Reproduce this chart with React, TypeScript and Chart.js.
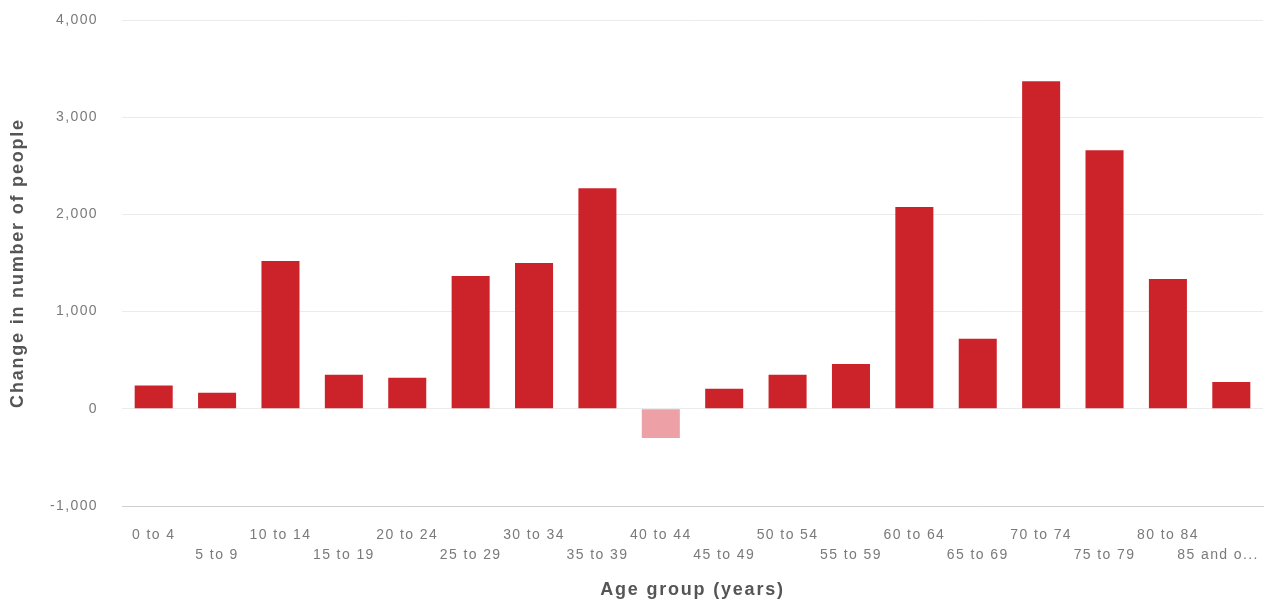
import React, { useEffect, useRef } from "react";
import { Chart, registerables } from "chart.js";

Chart.register(...registerables);

const categories = [
  "0 to 4", "5 to 9", "10 to 14", "15 to 19", "20 to 24", "25 to 29",
  "30 to 34", "35 to 39", "40 to 44", "45 to 49", "50 to 54", "55 to 59",
  "60 to 64", "65 to 69", "70 to 74", "75 to 79", "80 to 84", "85 and over",
];

const changeValues = [
  240, 165, 1520, 350, 320, 1365, 1500, 2270, -300, 205, 350, 460,
  2075, 720, 3370, 2660, 1335, 275,
];

const yTicks = [-1000, 0, 1000, 2000, 3000, 4000];

const POS_COLOR = "#cc232b";
const NEG_COLOR = "#eda0a5";
const FONT = "Liberation Sans, Arial, sans-serif";

function installSpacing(ctx: any) {
  const desc = Object.getOwnPropertyDescriptor(CanvasRenderingContext2D.prototype, "font");
  if (!desc || !desc.set || !desc.get) return;
  Object.defineProperty(ctx, "font", {
    configurable: true,
    get() {
      return desc.get!.call(this);
    },
    set(v: string) {
      desc.set!.call(this, v);
      this.letterSpacing = String(v).indexOf("bold") >= 0 ? "1.8px" : "1.4px";
    },
  });
}

export default function App() {
  const ref = useRef<HTMLCanvasElement | null>(null);

  useEffect(() => {
    if (!ref.current) return;
    const ctx2d = ref.current.getContext("2d");
    if (ctx2d) installSpacing(ctx2d);
    const chart = new Chart(ref.current, {
      type: "bar",
      data: {
        labels: categories,
        datasets: [
          {
            data: changeValues,
            backgroundColor: changeValues.map((v) => (v < 0 ? NEG_COLOR : POS_COLOR)),
            barPercentage: 0.6,
            categoryPercentage: 1,
          },
        ],
      },
      options: {
        animation: false,
        responsive: false,
        layout: { padding: { top: 20, left: 0, right: 3, bottom: 0 } },
        plugins: { legend: { display: false }, tooltip: { enabled: false } },
        scales: {
          x: {
            afterFit: (axis: any) => {
              axis.height = 95;
              axis.paddingLeft = 0;
              axis.paddingRight = 0;
            },
            grid: { display: false, drawTicks: false },
            border: { display: true, color: "#cfcfcf" },
            ticks: {
              autoSkip: false,
              maxRotation: 0,
              minRotation: 0,
              padding: 19,
              color: "#7a7a7a",
              font: { family: FONT, size: 14, lineHeight: 1.43 },
              callback: (_v: any, i: number) => {
                let t = categories[i];
                if (t.length > 10) t = t.slice(0, 8) + "...     ";
                return i % 2 === 0 ? t : ["", t];
              },
            },
            title: {
              display: true,
              text: "Age group (years)",
              color: "#555",
              font: { family: FONT, size: 18, weight: "bold" },
              padding: { top: 0, bottom: 0 },
            },
          },
          y: {
            min: -1000,
            max: 4000,
            afterFit: (axis: any) => {
              axis.width = 122;
              axis.paddingTop = 0;
              axis.paddingBottom = 0;
            },
            afterBuildTicks: (axis: any) => {
              axis.ticks = yTicks.map((v) => ({ value: v }));
            },
            grid: { color: "#ebebeb", drawTicks: false },
            border: { display: false },
            ticks: {
              padding: 24,
              color: "#7a7a7a",
              font: { family: FONT, size: 14 },
              callback: (v: any) => Number(v).toLocaleString("en-US"),
            },
            title: {
              display: true,
              text: "Change in number of people",
              color: "#555",
              font: { family: FONT, size: 18, weight: "bold" },
              padding: { top: 7, bottom: 0 },
            },
          },
        },
      },
    });
    return () => chart.destroy();
  }, []);

  return (
    <div style={{ position: "fixed", left: 0, top: 0, width: 1266, height: 601, background: "#fff" }}>
      <canvas ref={ref} width={1266} height={601} style={{ display: "block", width: 1266, height: 601 }} />
    </div>
  );
}
